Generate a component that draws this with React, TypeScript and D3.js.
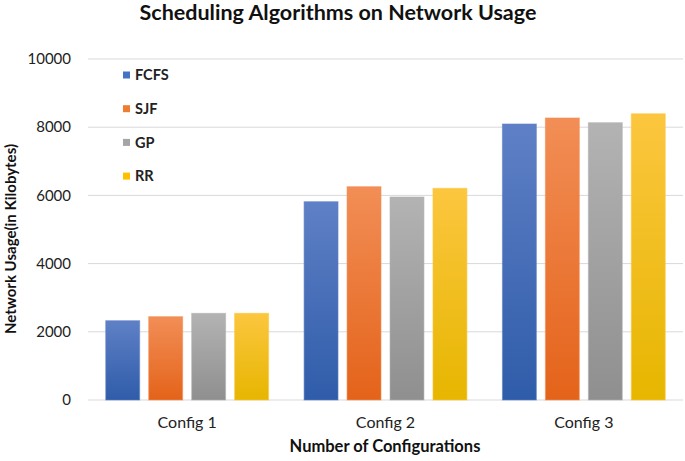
import React from "react";
import * as d3 from "d3";

const configs = ["Config 1", "Config 2", "Config 3"];
const seriesNames = ["FCFS", "SJF", "GP", "RR"];
const fcfs = [2325, 5815, 8094];
const sjf = [2443, 6255, 8270];
const gp = [2542, 5953, 8132];
const rr = [2542, 6208, 8393];
const yTicks = [0, 2000, 4000, 6000, 8000, 10000];

const seriesValues = [fcfs, sjf, gp, rr];
const colorsTop = ["#5f80c6", "#f28e56", "#b3b3b3", "#fcc63f"];
const colorsBottom = ["#2f5ca9", "#e4631a", "#8f8f8f", "#e6b600"];
const colorsLegend = ["#4472c4", "#ed7d31", "#a5a5a5", "#ffc000"];

export default function App() {
  const W = 685;
  const H = 461;
  const left = 88;
  const right = 683;
  const top = 59;
  const bottom = 400;

  const x0 = d3
    .scaleBand<string>()
    .domain(configs)
    .range([left, right])
    .paddingInner(0.179)
    .paddingOuter(0.0895);
  const x1 = d3
    .scaleBand<string>()
    .domain(seriesNames)
    .range([0, x0.bandwidth()])
    .paddingInner(0.21)
    .paddingOuter(0);
  const y = d3.scaleLinear().domain([0, 10000]).range([bottom, top]);

  const font = "Lato, 'Open Sans', sans-serif";

  return (
    <svg
      width={W}
      height={H}
      style={{ position: "absolute", left: 0, top: 0, background: "#fff" }}
      fontFamily={font}
    >
      <defs>
        {seriesNames.map((s, i) => (
          <linearGradient key={s} id={`g${i}`} x1="0" y1="0" x2="0" y2="1">
            <stop offset="0%" stopColor={colorsTop[i]} />
            <stop offset="100%" stopColor={colorsBottom[i]} />
          </linearGradient>
        ))}
      </defs>
      <text
        x={338}
        y={20}
        textAnchor="middle"
        fontSize={21.5}
        fontWeight="bold"
        fill="#111"
      >
        Scheduling Algorithms on Network Usage
      </text>
      {yTicks.map((t) => (
        <g key={t}>
          <line
            x1={left}
            x2={right}
            y1={y(t)}
            y2={y(t)}
            stroke="#d9d9d9"
            strokeWidth={1}
          />
          <text
            x={71}
            y={y(t)}
            dy="0.35em"
            textAnchor="end"
            fontSize={15}
            fill="#222"
          >
            {t}
          </text>
        </g>
      ))}
      {configs.map((c, ci) => (
        <g key={c}>
          {seriesNames.map((s, si) => {
            const v = seriesValues[si][ci];
            const bx = (x0(c) as number) + (x1(s) as number);
            return (
              <rect
                key={s}
                x={bx}
                y={y(v)}
                width={x1.bandwidth()}
                height={bottom - y(v)}
                fill={`url(#g${si})`}
                stroke={colorsTop[si]}
                strokeOpacity={0.6}
                strokeWidth={1}
              />
            );
          })}
          <text
            x={(x0(c) as number) + x0.bandwidth() / 2}
            y={428}
            textAnchor="middle"
            fontSize={16}
            fill="#222"
          >
            {c}
          </text>
        </g>
      ))}
      {seriesNames.map((s, i) => (
        <g key={s} transform={`translate(123, ${75 + i * 33.7})`}>
          <rect x={0} y={-3.5} width={7} height={7} fill={colorsLegend[i]} />
          <text x={12} y={0} dy="0.36em" fontSize={14.5} fontWeight="bold" fill="#222">
            {s}
          </text>
        </g>
      ))}
      <text
        x={385}
        y={452}
        textAnchor="middle"
        fontSize={16.5}
        fontWeight="bold"
        fill="#111"
      >
        Number of Configurations
      </text>
      <text
        transform={`translate(16, 239) rotate(-90)`}
        textAnchor="middle"
        fontSize={15}
        fontWeight="bold"
        fill="#111"
      >
        Network Usage(in Kilobytes)
      </text>
    </svg>
  );
}
